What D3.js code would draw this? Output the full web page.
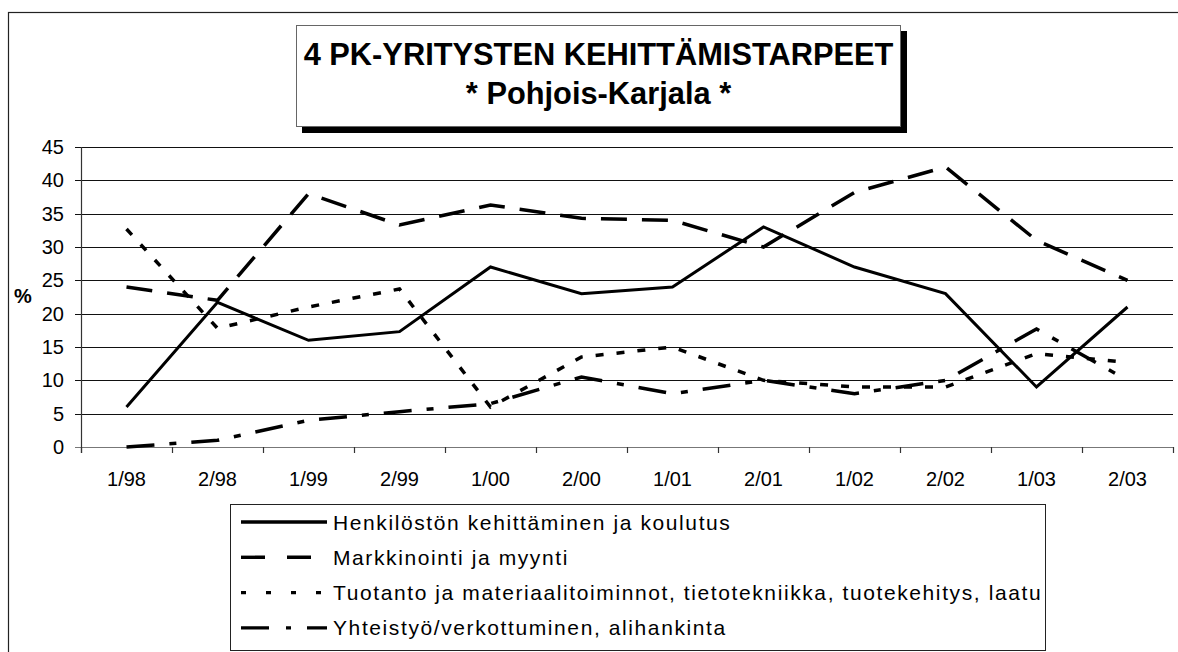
<html>
<head>
  <style>
    body { margin: 0; background: white; }
    text { font-family: "Liberation Sans", Arial, sans-serif; }
  </style>
</head>
<body>
<div id="chart"></div>
<script src="https://d3js.org/d3.v7.min.js"></script>
<script>

// data
const categories = ["1/98", "2/98", "1/99", "2/99", "1/00", "2/00", "1/01", "2/01", "1/02", "2/02", "1/03", "2/03"];
const henkilosto = [6, 21.7, 16, 17.3, 27, 23, 24, 33, 27, 23, 9, 21];
const markkinointi = [24, 22, 38, 33.3, 36.3, 34.3, 34, 30, 38.2, 42, 31, 25];
const tuotanto = [32.7, 17.8, 21, 23.7, 6, 13.5, 15, 10, 9, 9, 14, 12.7];
const yhteistyo = [0, 1, 4, 5.3, 6.5, 10.5, 8, 10, 8, 10, 17.7, 10];
const seriesNames = [
  "Henkilöstön kehittäminen ja koulutus",
  "Markkinointi ja myynti",
  "Tuotanto ja materiaalitoiminnot, tietotekniikka, tuotekehitys, laatu",
  "Yhteistyö/verkottuminen, alihankinta"
];
const yTicks = [0, 5, 10, 15, 20, 25, 30, 35, 40, 45];
const titleLines = ["4 PK-YRITYSTEN KEHITTÄMISTARPEET", "* Pohjois-Karjala *"];

let width = 1178, height = 652;

let svg = d3.select("#chart")
  .append("svg")
  .attr("width", width)
  .attr("height", height);

// outer chart border (runs off the picture right and bottom)
svg.append("rect")
  .attr("x", 8.5).attr("y", 12.5)
  .attr("width", 1300).attr("height", 700)
  .attr("fill", "white")
  .attr("stroke", "#222").attr("stroke-width", 1.2);

let x = d3.scaleBand()
  .domain(categories)
  .range([81, 1173])
  .padding(0);

let y = d3.scaleLinear()
  .domain([0, 45])
  .range([447, 147]);

// gridlines + y ticks
svg.append("g")
  .selectAll("line")
  .data(yTicks)
  .enter()
  .append("line")
  .attr("x1", 75).attr("x2", 1173)
  .attr("y1", d => Math.round(y(d)) + 0.5)
  .attr("y2", d => Math.round(y(d)) + 0.5)
  .attr("stroke", (d) => d == 0 ? "#777" : "#111")
  .attr("stroke-width", 1.2);

svg.append("g")
  .selectAll("text")
  .data(yTicks)
  .enter()
  .append("text")
  .attr("x", 64)
  .attr("y", d => y(d))
  .attr("text-anchor", "end")
  .attr("dominant-baseline", "central")
  .style("font-size", "20px")
  .text(d => d);

// y axis line
svg.append("line")
  .attr("x1", 81.5).attr("x2", 81.5)
  .attr("y1", 147).attr("y2", 453)
  .attr("stroke", "#333").attr("stroke-width", 1.2);

// x ticks on category borders
let borders = categories.map(c => x(c)).concat([x.range()[1]]);
svg.append("g")
  .selectAll("line")
  .data(borders)
  .enter()
  .append("line")
  .attr("x1", d => Math.round(d) + 0.5).attr("x2", d => Math.round(d) + 0.5)
  .attr("y1", 447).attr("y2", 453)
  .attr("stroke", "#333").attr("stroke-width", 1.2);

svg.append("g")
  .selectAll("text")
  .data(categories)
  .enter()
  .append("text")
  .attr("x", d => x(d) + x.bandwidth() / 2)
  .attr("y", 486)
  .attr("text-anchor", "middle")
  .style("font-size", "20px")
  .text(d => d);

svg.append("text")
  .attr("x", 14).attr("y", 303)
  .style("font-size", "20px")
  .style("font-weight", "bold")
  .text("%");

// lines
const allSeries = [henkilosto, markkinointi, tuotanto, yhteistyo];
const dashes = [null, "26,15", "8,13", "28,15,7,15"];
const widths = [3, 3.5, 3.5, 3.5];
const legendDashes = [null, "24,22", "5,20", "28,17,5,16"];

let line = d3.line()
  .x((d, i) => x(categories[i]) + x.bandwidth() / 2)
  .y(d => y(d));

svg.append("g")
  .selectAll("path")
  .data(allSeries)
  .enter()
  .append("path")
  .attr("d", d => line(d))
  .attr("fill", "none")
  .attr("stroke", "black")
  .attr("stroke-width", (d, i) => widths[i])
  .attr("stroke-dasharray", (d, i) => dashes[i]);

// title box with shadow
svg.append("rect")
  .attr("x", 302).attr("y", 31)
  .attr("width", 605).attr("height", 102)
  .attr("fill", "black");
svg.append("rect")
  .attr("x", 296.5).attr("y", 25.5)
  .attr("width", 604).attr("height", 101)
  .attr("fill", "white")
  .attr("stroke", "#666").attr("stroke-width", 1);

svg.append("g")
  .selectAll("text")
  .data(titleLines)
  .enter()
  .append("text")
  .attr("x", 598.5)
  .attr("y", (d, i) => 65 + i * 39)
  .attr("text-anchor", "middle")
  .style("font-size", "30.8px")
  .style("font-weight", "bold")
  .text(d => d);

// legend
svg.append("rect")
  .attr("x", 230.5).attr("y", 504.5)
  .attr("width", 815).attr("height", 146)
  .attr("fill", "white")
  .attr("stroke", "#222").attr("stroke-width", 1);

for (let i = 0; i < seriesNames.length; i++) {
  let ly = 522 + i * 35.3;
  svg.append("line")
    .attr("x1", 241).attr("x2", 327)
    .attr("y1", ly).attr("y2", ly)
    .attr("stroke", "black")
    .attr("stroke-width", 3.4)
    .attr("stroke-dasharray", legendDashes[i]);
  svg.append("text")
    .attr("x", 333)
    .attr("y", ly)
    .attr("dominant-baseline", "central")
    .style("font-size", "21px")
    .style("letter-spacing", "1.6px")
    .text(seriesNames[i]);
}

</script>
</body>
</html>
